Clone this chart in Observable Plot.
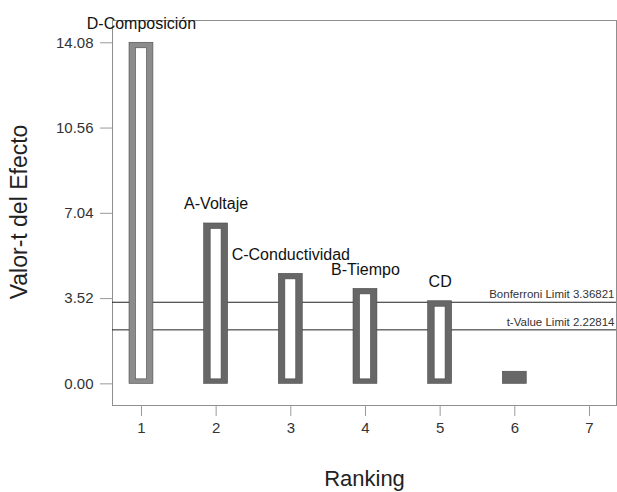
<!DOCTYPE html>
<html>
<head>
<meta charset="utf-8">
<script src="https://cdn.jsdelivr.net/npm/d3@7"></script>
<script src="https://cdn.jsdelivr.net/npm/@observablehq/plot@0.6"></script>
<style>
  html, body { margin: 0; padding: 0; background: #fff; }
  #chart { width: 617px; height: 492px; }
</style>
</head>
<body>
<div id="chart"></div>
<script>
// ---- data ----
const ranks = [1, 2, 3, 4, 5, 6];
const terms = ["D-Composición", "A-Voltaje", "C-Conductividad", "B-Tiempo", "CD", ""];
const tValues = [14.08, 6.62, 4.54, 3.92, 3.41, 0.5];

const limitNames = ["Bonferroni Limit", "t-Value Limit"];
const limitValues = [3.36821, 2.22814];

const yTicks = [0.00, 3.52, 7.04, 10.56, 14.08];
const xTicks = [1, 2, 3, 4, 5, 6, 7];

// ---- tables ----
const tLimit = limitValues[1];
const bars = ranks.map((r, i) => ({ rank: r, term: terms[i], t: tValues[i], hollow: tValues[i] > tLimit }));
const limits = limitNames.map((n, i) => ({ name: n, value: limitValues[i], label: `${n} ${limitValues[i]}` }));

const half = 0.16;
const font = "'Liberation Sans', Arial, Helvetica, sans-serif";

const chart = Plot.plot({
  width: 617,
  height: 492,
  marginLeft: 112,
  marginRight: 1,
  marginTop: 20,
  marginBottom: 87,
  style: { fontFamily: font, background: "#fff" },
  x: { domain: [0.612, 7.362] },
  y: { domain: [-0.894, 15.0] },
  marks: [
    Plot.frame({ stroke: "#8f8f8f" }),
    Plot.axisY({
      ticks: yTicks, tickFormat: d => d.toFixed(2), tickSize: 12, tickPadding: 7,
      fontSize: 15, label: null, stroke: "#9a9a9a", fill: "#333"
    }),
    Plot.axisX({
      ticks: xTicks, tickFormat: d => String(d), tickSize: 11, tickPadding: 6,
      fontSize: 15, label: null, stroke: "#9a9a9a", fill: "#333"
    }),
    Plot.ruleY(limits, { y: "value", stroke: "#222", strokeWidth: 1 }),
    Plot.text(limits, {
      y: "value", text: "label", frameAnchor: "right", textAnchor: "end",
      lineAnchor: "bottom", dx: -2, dy: -4, fontSize: 11.5, fill: "#333", letterSpacing: "-0.3px"
    }),
    // outer bars
    Plot.rect(bars, {
      x1: d => d.rank - half, x2: d => d.rank + half, y1: 0, y2: "t",
      fill: d => d.rank === 1 ? "#8c8c8c" : "#676767",
      stroke: "#4a4a4a", strokeWidth: 0.6
    }),
    // hollow interiors
    Plot.rect(bars.filter(d => d.hollow), {
      x1: d => d.rank - half, x2: d => d.rank + half, y1: 0, y2: "t",
      insetLeft: 6.5, insetRight: 6.5, insetTop: 5.5, insetBottom: 4.5,
      fill: "#fff", stroke: "#4a4a4a", strokeWidth: 0.6
    }),
    // term labels
    Plot.text(bars.filter(d => d.term), {
      x: "rank", y: "t", text: "term", lineAnchor: "bottom", dy: -14,
      fontSize: 16, fill: "#111"
    }),
    // axis titles
    Plot.text(["Valor-t del Efecto"], {
      frameAnchor: "left", textAnchor: "middle", lineAnchor: "middle",
      rotate: -90, dx: -93, dy: -1, fontSize: 23, fill: "#222"
    }),
    Plot.text(["Ranking"], {
      frameAnchor: "bottom", lineAnchor: "bottom", dy: 80, fontSize: 22, fill: "#222"
    })
  ]
});
document.getElementById("chart").appendChild(chart);
</script>
</body>
</html>
